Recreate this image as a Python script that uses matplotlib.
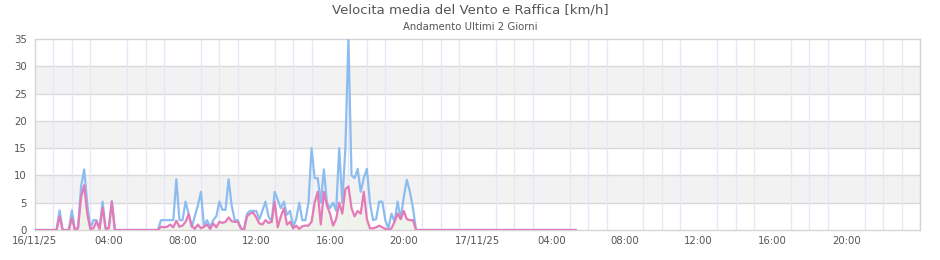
import matplotlib
matplotlib.use("Agg")
import matplotlib.pyplot as plt
import matplotlib.dates as mdates
import pandas as pd
import numpy as np

# ---- data (10-minute samples starting 16/11/25 00:00) ----
start_time = "2025-11-16 00:00"
sample_freq = "10min"

raffica = [  # gust km/h
    0, 0, 0, 0, 0, 0,
    0, 0, 3.6, 0, 0, 0,
    3.6, 0, 0.5, 8.0, 11.1, 4.8,
    0.3, 1.8, 1.8, 0.3, 5.2, 0.3,
    0.3, 5.3, 0, 0, 0, 0,
    0, 0, 0, 0, 0, 0,
    0, 0, 0, 0, 0, 1.8,
    1.8, 1.8, 1.8, 1.8, 9.3, 1.8,
    1.8, 5.2, 3.0, 0.5, 2.5, 4.5,
    7.0, 0.6, 1.8, 0.5, 1.8, 2.5,
    5.2, 3.7, 3.7, 9.3, 4.5, 1.8,
    1.8, 0.3, 0, 3.0, 3.5, 3.5,
    3.5, 2.0, 3.5, 5.2, 2.5, 1.5,
    7.0, 5.5, 4.0, 5.2, 2.8, 3.5,
    0.6, 2.0, 5.0, 1.8, 1.8, 5.0,
    15.0, 9.5, 9.5, 5.0, 11.1, 5.0,
    4.0, 5.0, 3.5, 15.0, 5.0, 15.0,
    35.0, 10.0, 9.5, 11.2, 7.0, 9.5,
    11.2, 5.0, 1.8, 2.0, 5.2, 5.2,
    1.8, 0.3, 3.0, 1.5, 5.2, 2.0,
    6.0, 9.2, 7.0, 4.0, 0, 0,
    0, 0, 0, 0, 0, 0,
    0, 0, 0, 0, 0, 0,
    0, 0, 0, 0, 0, 0,
    0, 0, 0, 0, 0, 0,
    0, 0, 0, 0, 0, 0,
    0, 0, 0, 0, 0, 0,
    0, 0, 0, 0, 0, 0,
    0, 0, 0, 0, 0, 0,
    0, 0, 0,
]

media = [  # mean wind km/h
    0, 0, 0, 0, 0, 0,
    0, 0, 2.5, 0, 0, 0,
    2.2, 0, 0.3, 6.0, 8.2, 3.0,
    0.2, 0.3, 1.6, 0.2, 4.1, 0.2,
    0.3, 5.2, 0, 0, 0, 0,
    0, 0, 0, 0, 0, 0,
    0, 0, 0, 0, 0, 0.6,
    0.5, 0.6, 1.0, 0.5, 1.7, 0.6,
    0.8, 1.5, 2.9, 0.8, 0.2, 1.0,
    0.3, 0.6, 1.0, 0.2, 1.2, 0.5,
    1.5, 1.3, 1.5, 2.3, 1.6, 1.5,
    1.5, 0.3, 0, 2.5, 3.0, 3.2,
    2.3, 1.2, 1.0, 1.8, 1.3, 1.5,
    5.2, 0.5, 2.5, 4.0, 1.0, 1.5,
    0.3, 0.8, 0.2, 0.7, 0.8, 0.8,
    1.5, 5.0, 7.0, 1.0, 7.0, 4.5,
    3.0, 0.8, 2.0, 5.0, 3.0, 7.5,
    8.0, 4.0, 2.5, 3.5, 3.0, 7.0,
    2.0, 0.3, 0.3, 0.5, 0.8, 0.5,
    0.2, 0, 0.3, 1.5, 3.0, 2.0,
    3.5, 2.0, 1.8, 1.8, 0, 0,
    0, 0, 0, 0, 0, 0,
    0, 0, 0, 0, 0, 0,
    0, 0, 0, 0, 0, 0,
    0, 0, 0, 0, 0, 0,
    0, 0, 0, 0, 0, 0,
    0, 0, 0, 0, 0, 0,
    0, 0, 0, 0, 0, 0,
    0, 0, 0, 0, 0, 0,
    0, 0, 0,
]

x_start = "2025-11-16 00:00"
x_end = "2025-11-18 00:00"
tick_labels = ["16/11/25", "04:00", "08:00", "12:00", "16:00", "20:00",
               "17/11/25", "04:00", "08:00", "12:00", "16:00", "20:00"]
y_ticks = [0, 5, 10, 15, 20, 25, 30, 35]

title = "Velocita media del Vento e Raffica [km/h]"
subtitle = "Andamento Ultimi 2 Giorni"

# ---- figure ----
times = pd.date_range(start_time, periods=len(raffica), freq=sample_freq)

fig = plt.figure(figsize=(9.4, 2.6), dpi=100)
ax = fig.add_axes([35 / 940, 1 - 230 / 260, (920 - 35) / 940, (230 - 39) / 260])

t0 = pd.Timestamp(x_start)
t1 = pd.Timestamp(x_end)
ax.set_xlim(t0, t1)
ax.set_ylim(0, 35)

# alternating bands
for lo in (5, 15, 25):
    ax.axhspan(lo, lo + 5, color="#f2f2f2", zorder=0, lw=0)
for yv in y_ticks[1:-1]:
    ax.axhline(yv, color="#d9d9d9", lw=1.0, zorder=1)

# hourly vertical grid
ax.xaxis.set_minor_locator(mdates.HourLocator(interval=1))
ax.grid(True, which="minor", axis="x", color="#e6e6f8", lw=0.9, zorder=1)

ax.fill_between(times, media, 0, color="#eef2ea", alpha=0.9, zorder=2, lw=0)
ax.plot(times, raffica, color="#8dbdf0", lw=1.6, zorder=3)
ax.plot(times, media, color="#e57ab8", lw=1.6, zorder=4)

tick_pos = pd.date_range(x_start, periods=len(tick_labels), freq="4h")
ax.set_xticks(mdates.date2num(tick_pos))
ax.set_xticklabels(tick_labels)
ax.set_yticks(y_ticks)
ax.set_yticklabels([str(v) for v in y_ticks])

ax.tick_params(axis="both", which="both", length=0, labelsize=7.3,
               labelcolor="#555555")
ax.tick_params(axis="y", pad=6)
ax.tick_params(axis="x", pad=4)

for side in ("left", "right", "top", "bottom"):
    ax.spines[side].set_color("#d5d5d5")
    ax.spines[side].set_linewidth(1.0)

fig.text(0.5, 1 - 10 / 260, title, ha="center", va="center",
         fontsize=9.5, color="#555555")
fig.text(0.5, 1 - 27 / 260, subtitle, ha="center", va="center",
         fontsize=7.3, color="#555555")

fig.savefig("out.png", dpi=100)
